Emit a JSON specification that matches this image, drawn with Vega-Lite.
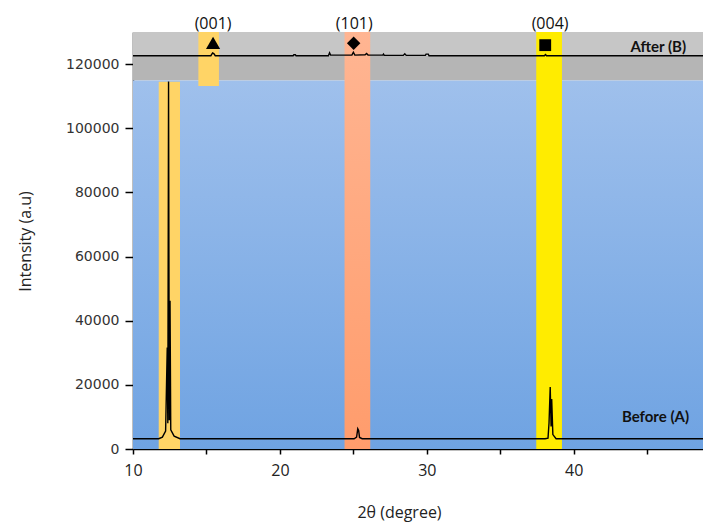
{
  "$schema": "https://vega.github.io/schema/vega-lite/v6.json",
  "width": 570,
  "height": 417,
  "autosize": "none",
  "padding": {"left": 133, "top": 32, "right": 0, "bottom": 74},
  "background": "white",
  "config": {"view": {"stroke": null}},
  "datasets": {
    "regions": [
      {"name": "grayTop", "x1": 10, "x2": 48.8, "y1": 122600, "y2": 130000},
      {"name": "grayBottom", "x1": 10, "x2": 48.8, "y1": 114900, "y2": 122600},
      {"name": "blue", "x1": 10, "x2": 48.8, "y1": 0, "y2": 114900},
      {"name": "band001low", "x1": 11.75, "x2": 13.2, "y1": 0, "y2": 114500},
      {"name": "band001high", "x1": 14.45, "x2": 15.85, "y1": 113200, "y2": 130000},
      {"name": "band101", "x1": 24.4, "x2": 26.15, "y1": 0, "y2": 130000},
      {"name": "band004", "x1": 37.45, "x2": 39.2, "y1": 0, "y2": 130000}
    ],
    "before": [
      {"theta": 10, "intensity": 3200},
      {"theta": 11.75, "intensity": 3200},
      {"theta": 12.0, "intensity": 3700},
      {"theta": 12.22, "intensity": 5600},
      {"theta": 12.33, "intensity": 31600},
      {"theta": 12.37, "intensity": 8000},
      {"theta": 12.42, "intensity": 114600},
      {"theta": 12.47, "intensity": 9000},
      {"theta": 12.52, "intensity": 46200},
      {"theta": 12.57, "intensity": 6000},
      {"theta": 12.8, "intensity": 4000},
      {"theta": 13.2, "intensity": 3200},
      {"theta": 25.05, "intensity": 3200},
      {"theta": 25.22, "intensity": 3700},
      {"theta": 25.3, "intensity": 6300},
      {"theta": 25.36, "intensity": 5800},
      {"theta": 25.42, "intensity": 3600},
      {"theta": 25.6, "intensity": 3200},
      {"theta": 38.05, "intensity": 3200},
      {"theta": 38.25, "intensity": 3400},
      {"theta": 38.32, "intensity": 8200},
      {"theta": 38.4, "intensity": 19300},
      {"theta": 38.46, "intensity": 7000},
      {"theta": 38.5, "intensity": 15600},
      {"theta": 38.58, "intensity": 4500},
      {"theta": 38.8, "intensity": 3200},
      {"theta": 48.8, "intensity": 3200}
    ],
    "after": [
      {"theta": 10, "intensity": 122600},
      {"theta": 15.3, "intensity": 122600},
      {"theta": 15.42, "intensity": 123500},
      {"theta": 15.5, "intensity": 123300},
      {"theta": 15.6, "intensity": 122600},
      {"theta": 20.9, "intensity": 122600},
      {"theta": 20.95, "intensity": 122900},
      {"theta": 21.05, "intensity": 122900},
      {"theta": 21.1, "intensity": 122600},
      {"theta": 23.3, "intensity": 122600},
      {"theta": 23.38, "intensity": 123500},
      {"theta": 23.45, "intensity": 122800},
      {"theta": 24.9, "intensity": 122800},
      {"theta": 25.0, "intensity": 123700},
      {"theta": 25.1, "intensity": 122800},
      {"theta": 25.8, "intensity": 122900},
      {"theta": 25.9, "intensity": 123300},
      {"theta": 26.0, "intensity": 122800},
      {"theta": 27.0, "intensity": 122800},
      {"theta": 27.05, "intensity": 123100},
      {"theta": 27.1, "intensity": 122700},
      {"theta": 28.4, "intensity": 122700},
      {"theta": 28.5, "intensity": 123200},
      {"theta": 28.6, "intensity": 122700},
      {"theta": 29.9, "intensity": 122700},
      {"theta": 29.95, "intensity": 123100},
      {"theta": 30.1, "intensity": 123100},
      {"theta": 30.15, "intensity": 122600},
      {"theta": 38.0, "intensity": 122600},
      {"theta": 38.08, "intensity": 123000},
      {"theta": 38.15, "intensity": 122600},
      {"theta": 48.8, "intensity": 122600}
    ],
    "markers": [
      {"plane": "(001)", "theta": 15.45, "intensity": 126600},
      {"plane": "(101)", "theta": 25.02, "intensity": 126500},
      {"plane": "(004)", "theta": 38.06, "intensity": 125900}
    ],
    "planeLabels": [
      {"plane": "(001)", "theta": 15.45, "intensity": 132600},
      {"plane": "(101)", "theta": 25.06, "intensity": 132600},
      {"plane": "(004)", "theta": 38.39, "intensity": 132600}
    ],
    "seriesLabels": [
      {"label": "After (B)", "theta": 47.65, "intensity": 125300},
      {"label": "Before (A)", "theta": 47.85, "intensity": 10000}
    ]
  },
  "layer": [
    {
      "data": {"name": "regions"},
      "transform": [{"filter": "datum.name === 'grayTop'"}],
      "mark": {"type": "rect", "fill": "#c6c6c6"},
      "encoding": {
        "x": {"field": "x1", "type": "quantitative", "scale": {"domain": [10, 48.8], "nice": false, "zero": false},
          "axis": {"values": [10, 15, 20, 25, 30, 35, 40, 45], "labelExpr": "datum.value % 10 === 0 ? datum.label : ''", "grid": false,
            "domainColor": "#000", "domainWidth": 1.5, "tickColor": "#000", "tickWidth": 1.5, "tickSize": 5,
            "labelFont": "Open Sans", "labelFontSize": 16, "labelColor": "#222", "labelPadding": 8, "labelFlush": false,
            "title": "2θ (degree)", "titleFont": "Open Sans", "titleFontSize": 16, "titleFontWeight": "normal", "titleColor": "#222",
            "titleX": 266, "titleY": 63, "titleAlign": "center", "titleBaseline": "middle"}},
        "x2": {"field": "x2"},
        "y": {"field": "y1", "type": "quantitative", "scale": {"domain": [0, 130000], "nice": false, "zero": false},
          "axis": {"values": [0, 10000, 20000, 30000, 40000, 50000, 60000, 70000, 80000, 90000, 100000, 110000, 120000, 130000],
            "labelExpr": "datum.value % 20000 === 0 && datum.value < 130000 ? datum.label : ''", "format": "d", "grid": false,
            "domainColor": "#000", "domainWidth": 1.5, "tickColor": "#000", "tickWidth": 1.5,
            "tickSize": {"condition": {"test": "datum.value % 20000 === 0", "value": 8}, "value": 4},
            "labelFont": "DejaVu Sans", "labelFontSize": 14, "labelColor": "#333", "labelPadding": 6,
            "title": "Intensity (a.u)", "titleFont": "Open Sans", "titleFontSize": 16, "titleFontWeight": "normal", "titleColor": "#222",
            "titleX": -108, "titleY": 209, "titleAngle": -90, "titleAlign": "center", "titleBaseline": "middle"}},
        "y2": {"field": "y2"}
      }
    },
    {
      "data": {"name": "regions"},
      "transform": [{"filter": "datum.name === 'grayBottom'"}],
      "mark": {"type": "rect", "fill": "#b5b5b5"},
      "encoding": {
        "x": {"field": "x1", "type": "quantitative"}, "x2": {"field": "x2"},
        "y": {"field": "y1", "type": "quantitative"}, "y2": {"field": "y2"}
      }
    },
    {
      "data": {"name": "regions"},
      "transform": [{"filter": "datum.name === 'blue'"}],
      "mark": {"type": "rect", "fill": {"gradient": "linear", "x1": 0, "y1": 0, "x2": 0, "y2": 1,
        "stops": [{"offset": 0, "color": "#9fc0ec"}, {"offset": 1, "color": "#6fa3e2"}]}},
      "encoding": {
        "x": {"field": "x1", "type": "quantitative"}, "x2": {"field": "x2"},
        "y": {"field": "y1", "type": "quantitative"}, "y2": {"field": "y2"}
      }
    },
    {
      "data": {"name": "regions"},
      "transform": [{"filter": "datum.name === 'band001low' || datum.name === 'band001high'"}],
      "mark": {"type": "rect", "fill": "#ffd466"},
      "encoding": {
        "x": {"field": "x1", "type": "quantitative"}, "x2": {"field": "x2"},
        "y": {"field": "y1", "type": "quantitative"}, "y2": {"field": "y2"}
      }
    },
    {
      "data": {"name": "regions"},
      "transform": [{"filter": "datum.name === 'band101'"}],
      "mark": {"type": "rect", "fill": {"gradient": "linear", "x1": 0, "y1": 0, "x2": 0, "y2": 1,
        "stops": [{"offset": 0, "color": "#ffb592"}, {"offset": 1, "color": "#ff9c6c"}]}},
      "encoding": {
        "x": {"field": "x1", "type": "quantitative"}, "x2": {"field": "x2"},
        "y": {"field": "y1", "type": "quantitative"}, "y2": {"field": "y2"}
      }
    },
    {
      "data": {"name": "regions"},
      "transform": [{"filter": "datum.name === 'band004'"}],
      "mark": {"type": "rect", "fill": "#ffec00"},
      "encoding": {
        "x": {"field": "x1", "type": "quantitative"}, "x2": {"field": "x2"},
        "y": {"field": "y1", "type": "quantitative"}, "y2": {"field": "y2"}
      }
    },
    {
      "data": {"name": "before"},
      "mark": {"type": "line", "color": "#000", "strokeWidth": 1.4},
      "encoding": {
        "x": {"field": "theta", "type": "quantitative"},
        "y": {"field": "intensity", "type": "quantitative"}
      }
    },
    {
      "data": {"name": "after"},
      "mark": {"type": "line", "color": "#000", "strokeWidth": 1.4},
      "encoding": {
        "x": {"field": "theta", "type": "quantitative"},
        "y": {"field": "intensity", "type": "quantitative"}
      }
    },
    {
      "data": {"name": "markers"},
      "transform": [{"filter": "datum.plane === '(001)'"}],
      "mark": {"type": "point", "shape": "triangle-up", "filled": true, "color": "#000", "opacity": 1, "size": 200},
      "encoding": {
        "x": {"field": "theta", "type": "quantitative"},
        "y": {"field": "intensity", "type": "quantitative"}
      }
    },
    {
      "data": {"name": "markers"},
      "transform": [{"filter": "datum.plane === '(101)'"}],
      "mark": {"type": "point", "shape": "diamond", "filled": true, "color": "#000", "opacity": 1, "size": 180},
      "encoding": {
        "x": {"field": "theta", "type": "quantitative"},
        "y": {"field": "intensity", "type": "quantitative"}
      }
    },
    {
      "data": {"name": "markers"},
      "transform": [{"filter": "datum.plane === '(004)'"}],
      "mark": {"type": "point", "shape": "square", "filled": true, "color": "#000", "opacity": 1, "size": 140},
      "encoding": {
        "x": {"field": "theta", "type": "quantitative"},
        "y": {"field": "intensity", "type": "quantitative"}
      }
    },
    {
      "data": {"name": "planeLabels"},
      "mark": {"type": "text", "font": "Open Sans", "fontSize": 16, "color": "#111", "align": "center", "baseline": "middle"},
      "encoding": {
        "x": {"field": "theta", "type": "quantitative"},
        "y": {"field": "intensity", "type": "quantitative"},
        "text": {"field": "plane"}
      }
    },
    {
      "data": {"name": "seriesLabels"},
      "mark": {"type": "text", "font": "Lato", "fontSize": 15, "fontWeight": "bold", "color": "#111", "align": "right", "baseline": "middle"},
      "encoding": {
        "x": {"field": "theta", "type": "quantitative"},
        "y": {"field": "intensity", "type": "quantitative"},
        "text": {"field": "label"}
      }
    }
  ]
}
